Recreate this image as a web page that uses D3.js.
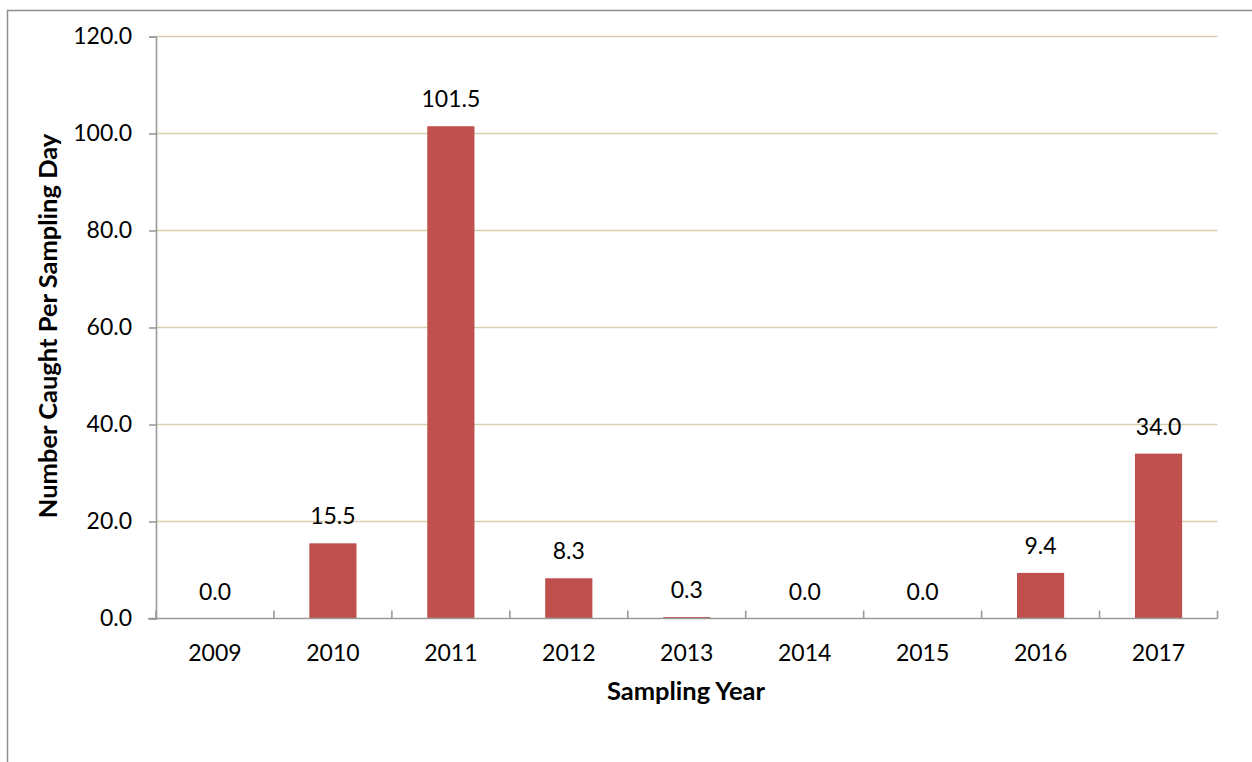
<!DOCTYPE html>
<html>
<head>
<meta charset="utf-8">
<script src="https://cdn.jsdelivr.net/npm/d3@7"></script>
<style>
  html, body { margin: 0; padding: 0; background: #fff; }
  svg { display: block; }
  text { font-family: Lato, "Open Sans", sans-serif; fill: #000; }
</style>
</head>
<body>
<svg id="chart" width="1252" height="762"></svg>
<script>
// Sampling data
const years = ["2009", "2010", "2011", "2012", "2013", "2014", "2015", "2016", "2017"];
const catchPerDay = [0.0, 15.5, 101.5, 8.3, 0.3, 0.0, 0.0, 9.4, 34.0];
const yTicks = [0, 20, 40, 60, 80, 100, 120];

const svg = d3.select("#chart");
const labelSize = 23;
const titleSize = 25.5;

// Frame around the chart area
svg.append("rect")
  .attr("x", 7.5).attr("y", 10.5)
  .attr("width", 1300).attr("height", 800)
  .attr("fill", "none").attr("stroke", "#8e8e8e").attr("stroke-width", 1.5);

const plotLeft = 156, plotRight = 1217.5, plotTop = 36.5, plotBottom = 618.5;

const x = d3.scaleBand().domain(years).range([plotLeft, plotRight]).paddingInner(0.6).paddingOuter(0.3);
const xCat = d3.scaleBand().domain(years).range([plotLeft, plotRight]);
const y = d3.scaleLinear().domain([0, 120]).range([plotBottom, plotTop]);

// Horizontal gridlines
svg.append("g").selectAll("line").data(yTicks.filter(d => d > 0)).join("line")
  .attr("x1", plotLeft + 1).attr("x2", plotRight)
  .attr("y1", d => y(d)).attr("y2", d => y(d))
  .attr("stroke", "#d6d0ae").attr("stroke-width", 1.6);

// Bars
svg.append("g").selectAll("rect").data(catchPerDay).join("rect")
  .attr("x", (d, i) => x(years[i]))
  .attr("width", x.bandwidth())
  .attr("y", d => y(d))
  .attr("height", d => plotBottom - y(d))
  .attr("fill", "#c0504d");

// Y axis
const yAxis = d3.axisLeft(y).tickValues(yTicks).tickSize(7).tickPadding(17)
  .tickFormat(d3.format(".1f"));
const gy = svg.append("g").attr("transform", `translate(${plotLeft},0)`).call(yAxis);
gy.select(".domain").attr("stroke", "#9a9a9a").attr("stroke-width", 1.6);
gy.selectAll(".tick line").attr("stroke", "#9a9a9a").attr("stroke-width", 1.6);
gy.selectAll(".tick text").attr("font-size", labelSize).attr("font-family", "Lato, sans-serif").attr("fill", "#000");

// X axis with category boundary ticks
svg.append("line")
  .attr("x1", plotLeft - 8).attr("x2", plotRight)
  .attr("y1", plotBottom).attr("y2", plotBottom)
  .attr("stroke", "#9a9a9a").attr("stroke-width", 1.6);
const bounds = years.map(d => xCat(d)).concat([plotRight]);
svg.append("g").selectAll("line").data(bounds).join("line")
  .attr("x1", d => d).attr("x2", d => d)
  .attr("y1", plotBottom).attr("y2", plotBottom - 8)
  .attr("stroke", "#9a9a9a").attr("stroke-width", 1.6);
svg.append("g").selectAll("text").data(years).join("text")
  .attr("x", d => xCat(d) + xCat.bandwidth() / 2)
  .attr("y", 661)
  .attr("text-anchor", "middle")
  .attr("font-size", labelSize)
  .text(d => d);

// Value labels
svg.append("g").selectAll("text").data(catchPerDay).join("text")
  .attr("x", (d, i) => x(years[i]) + x.bandwidth() / 2)
  .attr("y", d => y(d) - 19)
  .attr("text-anchor", "middle")
  .attr("font-size", labelSize)
  .text(d => d3.format(".1f")(d));

// Axis titles
svg.append("text")
  .attr("x", 686).attr("y", 700)
  .attr("text-anchor", "middle")
  .attr("font-size", titleSize).attr("font-weight", "bold")
  .text("Sampling Year");

svg.append("text")
  .attr("transform", "translate(57,326) rotate(-90)")
  .attr("text-anchor", "middle")
  .attr("font-size", titleSize).attr("font-weight", "bold")
  .text("Number Caught Per Sampling Day");
</script>
</body>
</html>
